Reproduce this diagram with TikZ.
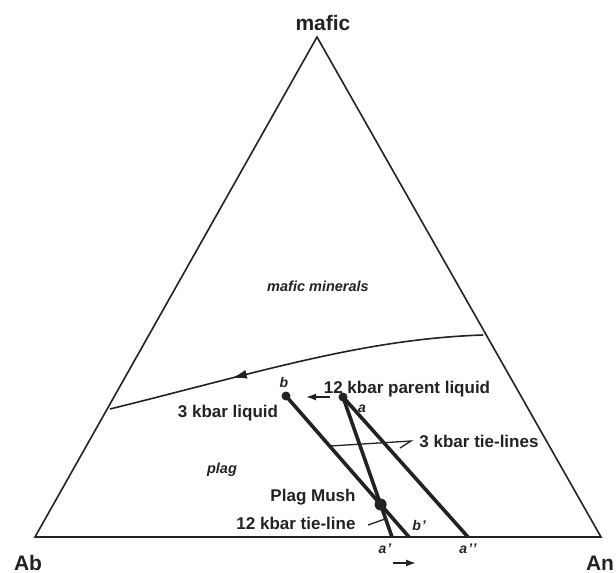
\documentclass[tikz,border=0pt]{standalone}
\usepackage{fontspec}
\setmainfont{Liberation Sans}
\usetikzlibrary{arrows.meta,decorations.markings,intersections,calc}
\definecolor{ink}{HTML}{222222}
\tikzset{
  edge/.style={draw=ink,line width=1.6pt},
  tie/.style={draw=ink,line width=3.6pt},
  leader/.style={draw=ink,line width=1.3pt},
  dot/.style={fill=ink,circle,inner sep=0pt,minimum size=9pt},
  bigdot/.style={fill=ink,circle,inner sep=0pt,minimum size=12pt},
  corner/.style={font=\fontsize{21}{24}\selectfont\bfseries,text=ink,inner sep=0pt,anchor=base},
  lab/.style={font=\fontsize{17}{20}\selectfont\bfseries,text=ink,inner sep=0pt,anchor=base},
  field/.style={font=\fontsize{14.5}{17}\selectfont\bfseries\itshape,text=ink,inner sep=0pt,anchor=base},
  pt/.style={font=\fontsize{14}{16}\selectfont\bfseries\itshape,text=ink,inner sep=0pt,anchor=base},
  arr/.style={draw=ink,line width=1.6pt,-{Latex[length=10pt,width=7pt]}}
}
\begin{document}
\begin{tikzpicture}[x=1pt,y=-1pt]
\useasboundingbox (0,0) rectangle (616,573);
% corners
\coordinate (apex) at (317,37);
\coordinate (left) at (35,537);
\coordinate (right) at (601,537);
\draw[edge,line join=miter] (left) -- (apex) -- (right) -- cycle;
% cotectic curve
\coordinate (c0) at (110,409);
\coordinate (c1) at (483,335);
\draw[edge,postaction={decorate},decoration={markings,
  mark=at position 0.33 with {\arrowreversed[fill=ink]{Latex[length=15pt,width=9pt]}}}]
  (c0) .. controls (260,372) and (363,339) .. (c1);
% points
\coordinate (a) at (343,397);
\coordinate (b) at (286,396);
\coordinate (ap) at (392,537);
\coordinate (bp) at (409,537);
\coordinate (app) at (468,537);
\draw[tie,name path=bb] (b) -- (bp);
\draw[tie,name path=aa] (a) -- (ap);
\draw[tie] (a) -- (app);
\path[name intersections={of=bb and aa,by=mush}];
\node[bigdot] (mushdot) at (mush) {};
\node[dot] (adot) at (a) {};
\node[dot] (bdot) at (b) {};
% arrows
\coordinate (ab1) at (330,397);
\coordinate (ab2) at (306,397);
\draw[arr] (ab1) -- (ab2);
\coordinate (bt1) at (393,563);
\coordinate (bt2) at (416,563);
\draw[arr] (bt1) -- (bt2);
% labels
\node[corner] (lmafic) at (323,30) {mafic};
\node[corner] (lab) at (28,570) {Ab};
\node[corner] (lan) at (600,570) {An};
\node[field] (lmm) at (318,291) {mafic minerals};
\node[field] (lplag) at (222,473) {plag};
\node[lab] (lpar) at (407,393) {12 kbar parent liquid};
\node[lab] (lliq) at (228,417) {3 kbar liquid};
\node[lab] (ltie) at (479,447) {3 kbar tie-lines};
\node[lab] (lmush) at (313,501) {Plag Mush};
\node[lab] (l12) at (296,529) {12 kbar tie-line};
\node[pt] (lb) at (284,387) {b};
\node[pt] (la) at (362,412) {a};
\node[pt] (lbp) at (419,530) {b\kern1pt'};
\node[pt] (lap) at (385,553) {a\kern1pt'};
\node[pt] (lapp) at (468,553) {a\kern1pt'\kern0.5pt{}'};
% leaders
\coordinate (t0) at (330,446);
\coordinate (t1) at (411,441);
\coordinate (t2) at (400,448);
\draw[leader] (t0) -- (t1) -- (t2);
\coordinate (k0) at (368,525);
\coordinate (k1) at (385,519);
\draw[leader] (k0) -- (k1);
\end{tikzpicture}
\end{document}
